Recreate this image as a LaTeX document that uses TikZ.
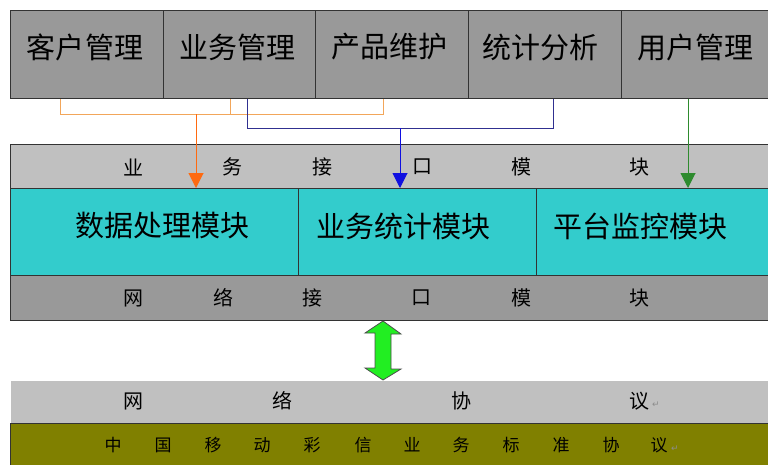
\documentclass[tikz,border=0pt]{standalone}
\usepackage{fontspec}
\newfontfamily\cjk{Noto Sans CJK SC}
\newfontfamily\symf{DejaVu Sans}
\usetikzlibrary{arrows.meta,calc}
\definecolor{boxgray}{HTML}{999999}
\definecolor{bandgray}{HTML}{C0C0C0}
\definecolor{modcyan}{HTML}{33CCCC}
\definecolor{olive2}{HTML}{808000}
\definecolor{edge}{HTML}{333333}
\definecolor{obus}{HTML}{F2A65A}
\definecolor{oarr}{HTML}{FF6A10}
\definecolor{bbus}{HTML}{303090}
\definecolor{barr}{HTML}{1010E0}
\definecolor{garr}{HTML}{2E8B2E}
\definecolor{dblgreen}{HTML}{22EE22}
\begin{document}
\begin{tikzpicture}[x=1pt,y=-1pt,
  box/.style={draw=edge, line width=1pt, inner sep=0pt, anchor=north west},
  topbox/.style={box, fill=boxgray, minimum height=88pt},
  modbox/.style={box, fill=modcyan, minimum height=87pt},
  bigtxt/.style={font=\cjk\fontsize{29}{31}\selectfont, text=black, inner sep=0pt},
  bandtxt/.style={font=\cjk\fontsize{20}{22}\selectfont, text=black, inner sep=0pt},
  smalltxt/.style={font=\cjk\fontsize{17}{19}\selectfont, text=black, inner sep=0pt},
  pm/.style={font=\symf\fontsize{9}{9}\selectfont, text=black!45, inner sep=0pt},
  obusline/.style={draw=obus, line width=1pt},
  oarrow/.style={draw=oarr, line width=1pt, -{Triangle[width=15pt,length=15pt,fill=oarr]}},
  bbusline/.style={draw=bbus, line width=1pt},
  barrow/.style={draw=barr, line width=1pt, -{Triangle[width=15pt,length=15pt,fill=barr]}},
  garrow/.style={draw=garr, line width=1pt, -{Triangle[width=15pt,length=15pt,fill=garr]}},
  dbl/.style={draw=black!70, fill=dblgreen, line width=0.8pt, line join=miter}
]
\useasboundingbox (0,0) rectangle (768,464);
\fill[white] (0,0) rectangle (768,464);

% top function boxes
\node[topbox, minimum width=153pt] (kh) at (10,10) {};
\node[topbox, minimum width=152pt] (yw) at (163,10) {};
\node[topbox, minimum width=153pt] (cp) at (315,10) {};
\node[topbox, minimum width=153pt] (tj) at (468,10) {};
\node[topbox, minimum width=160pt] (yh) at (621,10) {};
\node[bigtxt] (khT) at (85,47) {客户管理};
\node[bigtxt] (ywT) at (237,47) {业务管理};
\node[bigtxt] (cpT) at (389,47) {产品维护};
\node[bigtxt] (tjT) at (540,47) {统计分析};
\node[bigtxt] (yhT) at (695,47) {用户管理};

% business interface band
\node[box, fill=bandgray, minimum width=770pt, minimum height=44pt] (bi) at (10,144) {};
\foreach \c/\x [count=\i] in {业/133,务/232,接/322,口/422,模/521,块/639}
  \node[bandtxt] (bi\i) at (\x,167) {\c};

% module boxes
\node[modbox, minimum width=288pt] (sj) at (10,188) {};
\node[modbox, minimum width=238pt] (ys) at (298,188) {};
\node[modbox, minimum width=240pt] (pt) at (536,188) {};
\node[bigtxt] (sjT) at (162,226) {数据处理模块};
\node[bigtxt] (ysT) at (403,226) {业务统计模块};
\node[bigtxt] (ptT) at (640,226) {平台监控模块};

% network interface band
\node[box, fill=boxgray, minimum width=770pt, minimum height=45pt] (ni) at (10,275) {};
\foreach \c/\x [count=\i] in {网/133,络/223,接/312,口/421,模/521,块/639}
  \node[bandtxt] (ni\i) at (\x,298) {\c};

% network protocol band
\node[box, draw=none, fill=bandgray, minimum width=770pt, minimum height=43pt] (np) at (10,380) {};
\foreach \c/\x [count=\i] in {网/133,络/282,协/461,议/639}
  \node[bandtxt] (np\i) at (\x,401) {\c};
\node[pm] (pm1) at (656,405) {↵};

% China Mobile MMS standard band
\node[box, fill=olive2, minimum width=770pt, minimum height=45pt] (cm) at (10,423) {};
\foreach \c/\x [count=\i] in {中/113,国/163,移/213,动/262,彩/312,信/363,业/412,务/461,标/511,准/561,协/611,议/659}
  \node[smalltxt] (cm\i) at (\x,445) {\c};
\node[pm] (pm2) at (675,449) {↵};

% orange connector
\draw[obusline] (60,0 |- kh.south) -- (60,114) -- (383,114) -- (383,0 |- cp.south);
\draw[obusline] (230,0 |- yw.south) -- (230,114);
\coordinate (oj) at (196,114);
\draw[oarrow] (oj) -- (oj |- sj.north);

% blue connector
\draw[bbusline] (247,0 |- yw.south) -- (247,128) -- (553,128) -- (553,0 |- tj.south);
\coordinate (bj) at (400,128);
\draw[barrow] (bj) -- (bj |- ys.north);

% green connector
\draw[garrow] (688,0 |- yh.south) -- (688,0 |- pt.north);

% double arrow between network interface and network protocol
\draw[dbl] (383,0 |- ni.south) -- ++(18,13) -- ++(-10,0) -- ++(0,35) -- ++(10,0)
  -- (383,0 |- np.north) -- ++(-18,-12) -- ++(10,0) -- ++(0,-35) -- ++(-10,0) -- cycle;
\end{tikzpicture}
\end{document}
